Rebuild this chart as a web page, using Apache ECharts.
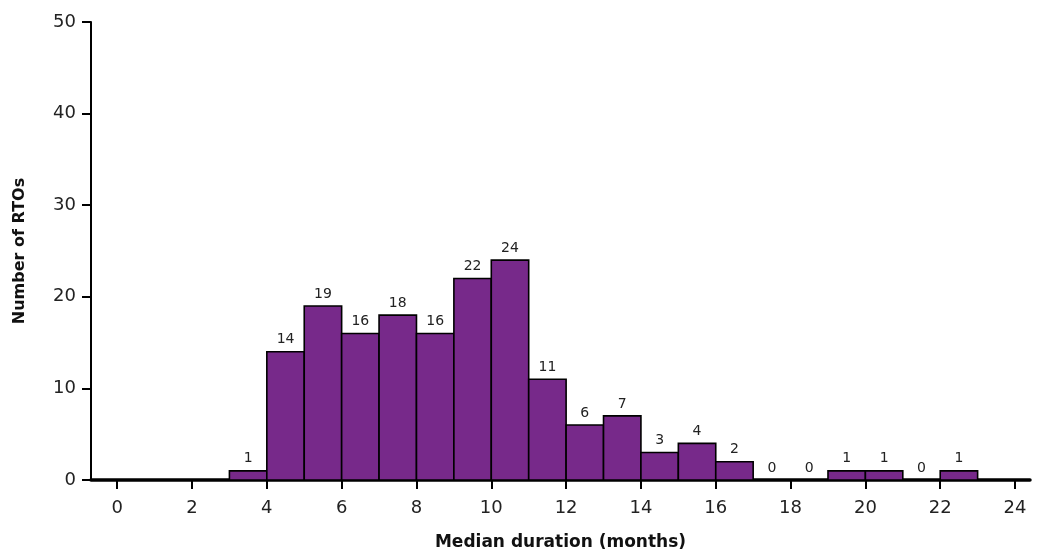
<!DOCTYPE html>
<html><head><meta charset="utf-8">
<script src="https://cdn.jsdelivr.net/npm/echarts@6/dist/echarts.min.js"></script>
<style>html,body{margin:0;padding:0;background:#fff}#c{width:1039px;height:550px}</style>
</head><body><div id="c"></div>
<script>
const binStarts = [3,4,5,6,7,8,9,10,11,12,13,14,15,16,17,18,19,20,21,22];
const counts    = [1,14,19,16,18,16,22,24,11,6,7,3,4,2,0,0,1,1,0,1];
const xTicks = [0,2,4,6,8,10,12,14,16,18,20,22,24];
const yTicks = [0,10,20,30,40,50];
const binWidth = 1;

const data = binStarts.map((s,i)=>[s, s+binWidth, counts[i]]);
const chart = echarts.init(document.getElementById('c'), null, {renderer:'canvas'});
const font = 'DejaVu Sans';
chart.setOption({
  animation:false,
  textStyle:{fontFamily:font},
  grid:{left:91,right:9,top:22,bottom:70,outerBoundsMode:'none',containLabel:false},
  xAxis:{type:'value',min:-0.7,max:24.4,
    name:'Median duration (months)',nameLocation:'middle',nameGap:54,
    nameTextStyle:{fontFamily:font,fontWeight:'bold',fontSize:17,color:'#111'},
    axisLine:{onZero:false,lineStyle:{color:'#000',width:3.5}},
    axisTick:{show:true,length:9,lineStyle:{color:'#000',width:2},customValues:xTicks},
    axisLabel:{customValues:xTicks,fontSize:18,color:'#222',margin:19,fontFamily:font},
    splitLine:{show:false}},
  yAxis:{type:'value',min:0,max:50,interval:10,
    name:'Number of RTOs',nameLocation:'middle',nameGap:63,
    nameTextStyle:{fontFamily:font,fontWeight:'bold',fontSize:16,color:'#111'},
    axisLine:{show:true,onZero:false,lineStyle:{color:'#000',width:2}},
    axisTick:{show:true,length:9,lineStyle:{color:'#000',width:2}},
    axisLabel:{fontSize:18,color:'#222',margin:15,fontFamily:font},
    splitLine:{show:false}},
  series:[{
    type:'custom',
    data:data,
    renderItem:function(params, api){
      const x0 = api.value(0), x1 = api.value(1), v = api.value(2);
      const p0 = api.coord([x0, v]);
      const p1 = api.coord([x1, 0]);
      const children = [];
      if (v > 0) {
        children.push({type:'rect',shape:{x:p0[0],y:p0[1],width:p1[0]-p0[0],height:p1[1]-p0[1]},
          style:{fill:'#77298a',stroke:'#000',lineWidth:1.6}});
      }
      children.push({type:'text',style:{text:String(v),x:(p0[0]+p1[0])/2,y:p0[1]-5,
        align:'center',verticalAlign:'bottom',fontSize:14,fontFamily:font,fill:'#222'}});
      return {type:'group',children:children};
    },
    z:1
  }]
});
</script></body></html>
